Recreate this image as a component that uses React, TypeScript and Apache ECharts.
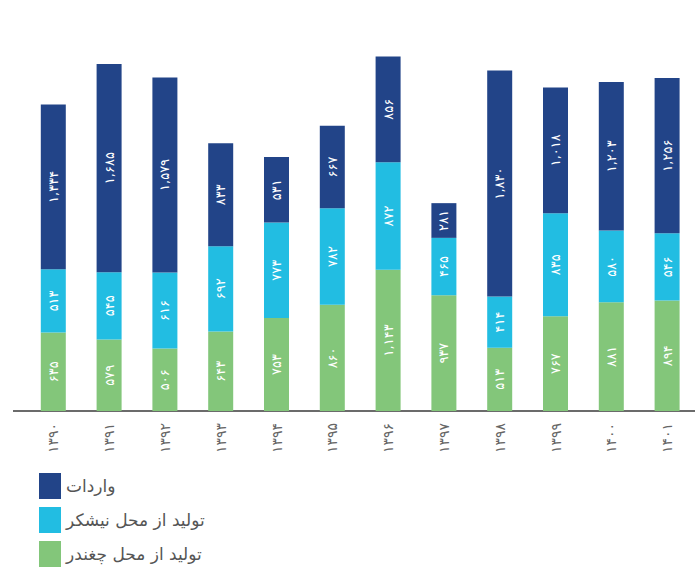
import React, { useEffect, useRef } from "react";
import * as echarts from "echarts";

const years = ["1390", "1391", "1392", "1393", "1394", "1395", "1396", "1397", "1398", "1399", "1400", "1401"];
const beet = [635, 579, 506, 643, 753, 860, 1143, 937, 513, 767, 881, 894];
const cane = [513, 545, 616, 692, 773, 782, 872, 465, 414, 835, 580, 546];
const imports = [1334, 1685, 1579, 833, 531, 667, 856, 281, 1830, 1018, 1203, 1256];

const nameImport = "واردات";
const nameCane = "تولید از محل نیشکر";
const nameBeet = "تولید از محل چغندر";

const faDigits = "۰۱۲۳۴۵۶۷۸۹";
function toFa(s: string): string {
  return s.replace(/[0-9]/g, (d) => faDigits[Number(d)]);
}
function fmt(n: number): string {
  const s = String(n).replace(/\B(?=(\d{3})+(?!\d))/g, ",");
  return toFa(s);
}

const FONT = "'DejaVu Sans', 'Noto Sans', sans-serif";

export default function App() {
  const ref = useRef<HTMLDivElement>(null);
  useEffect(() => {
    if (!ref.current) return;
    const chart = echarts.init(ref.current, undefined, { renderer: "svg" });
    const barLabel = {
      show: true,
      position: "inside" as const,
      rotate: 90,
      color: "#ffffff",
      fontSize: 13,
      fontWeight: "normal" as const,
      fontFamily: FONT,
      formatter: (p: any) => fmt(p.value),
    };
    const gridLeft = 25.4;
    const gridTop = 40.5;
    const gridHeight = 370.5;
    chart.setOption({
      animation: false,
      textStyle: { fontFamily: FONT },
      grid: { left: gridLeft, top: gridTop, width: 675.3, height: gridHeight, containLabel: false },
      legend: {
        orient: "vertical",
        left: 39,
        top: 473,
        height: 100,
        padding: 0,
        itemWidth: 22,
        itemHeight: 26,
        itemGap: 8,
        icon: "rect",
        data: [nameImport, nameCane, nameBeet],
        textStyle: { fontSize: 17, color: "#555555", fontFamily: FONT },
        selectedMode: false,
      },
      xAxis: {
        type: "category",
        data: years,
        axisLine: { show: true, lineStyle: { color: "#6b6b6b", width: 2 } },
        axisTick: { show: false },
        axisLabel: {
          rotate: 90,
          color: "#666666",
          fontSize: 14,
          margin: 12,
          fontFamily: FONT,
          formatter: (v: string) => toFa(v),
        },
      },
      yAxis: {
        type: "value",
        min: 0,
        max: 3000,
        show: false,
        splitLine: { show: false },
      },
      graphic: [
        {
          type: "line",
          shape: { x1: 13, y1: gridTop + gridHeight, x2: gridLeft, y2: gridTop + gridHeight },
          style: { stroke: "#6b6b6b", lineWidth: 2 },
        },
      ],
      series: [
        {
          name: nameBeet,
          type: "bar",
          stack: "total",
          data: beet,
          barWidth: 25,
          itemStyle: { color: "#83C67A" },
          label: barLabel,
        },
        {
          name: nameCane,
          type: "bar",
          stack: "total",
          data: cane,
          barWidth: 25,
          itemStyle: { color: "#22BDE2" },
          label: barLabel,
        },
        {
          name: nameImport,
          type: "bar",
          stack: "total",
          data: imports,
          barWidth: 25,
          itemStyle: { color: "#224488" },
          label: barLabel,
        },
      ],
    });
    return () => chart.dispose();
  }, []);
  return (
    <div style={{ position: "fixed", left: 0, top: 0, width: 695, height: 569, overflow: "hidden", background: "#fff" }}>
      <div ref={ref} style={{ width: 695, height: 569 }} />
    </div>
  );
}
